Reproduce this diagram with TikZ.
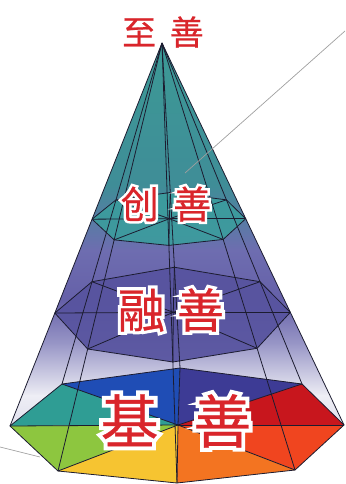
\documentclass[tikz,border=0pt]{standalone}
\usepackage{fontspec}
\newfontfamily\cjk{Noto Sans CJK SC}[FakeBold=0.6]
\newfontfamily\cjkW{Noto Sans CJK SC}[FakeBold=14]
\usetikzlibrary{calc}
\definecolor{zred}{HTML}{D9252B}
\definecolor{edgec}{HTML}{1C1C30}
\definecolor{bTeal}{HTML}{2F9D94}
\definecolor{bBlue}{HTML}{1F4DB5}
\definecolor{bPurple}{HTML}{3D3B95}
\definecolor{bDRed}{HTML}{C8161D}
\definecolor{bRedO}{HTML}{F0451F}
\definecolor{bOrange}{HTML}{F37421}
\definecolor{bYellow}{HTML}{F6C431}
\definecolor{bGreen}{HTML}{8DC63F}
\definecolor{sA}{HTML}{3C9A96}
\definecolor{sB}{HTML}{3F8D97}
\definecolor{sC}{HTML}{6E6DB0}
\definecolor{sD}{HTML}{6560A8}
\definecolor{sE}{HTML}{9B99C8}
\definecolor{sF}{HTML}{EEEEF5}
\definecolor{sG}{HTML}{C8C8E0}
\definecolor{topOct}{HTML}{3B9D9D}
\definecolor{midOct}{HTML}{57539F}
\tikzset{
  edge/.style={draw=edgec, line width=0.8pt, line join=round},
  lbl/.style={inner sep=0pt, anchor=center, text=zred},
  halo/.style={inner sep=0pt, anchor=center, text=white},
  leader/.style={draw=gray!75, line width=0.7pt},
}
\begin{document}
\begin{tikzpicture}[x=1pt,y=-1pt]
\useasboundingbox (0,0) rectangle (345,484);
% base vertices
\coordinate (A) at (162,43);
\coordinate (L) at (10,426);
\coordinate (BL) at (62,384);
\coordinate (B) at (180,368);
\coordinate (BR) at (302,384);
\coordinate (R) at (344,425);
\coordinate (FR) at (295,470);
\coordinate (F) at (177,483);
\coordinate (FL) at (58,471);
\coordinate (C) at (178,425);
% middle section
\coordinate (mL) at ($(A)!0.705!(L)$);
\coordinate (mBL) at ($(A)!0.70!(BL)$);
\coordinate (mB) at ($(A)!0.69!(B)$);
\coordinate (mBR) at ($(A)!0.70!(BR)$);
\coordinate (mR) at ($(A)!0.705!(R)$);
\coordinate (mFR) at ($(A)!0.715!(FR)$);
\coordinate (mF) at ($(A)!0.725!(F)$);
\coordinate (mFL) at ($(A)!0.715!(FL)$);
\coordinate (mC) at ($(A)!0.705!(C)$);
% top section
\coordinate (tL) at ($(A)!0.46!(L)$);
\coordinate (tBL) at ($(A)!0.46!(BL)$);
\coordinate (tB) at ($(A)!0.46!(B)$);
\coordinate (tBR) at ($(A)!0.46!(BR)$);
\coordinate (tR) at ($(A)!0.46!(R)$);
\coordinate (tFR) at ($(A)!0.46!(FR)$);
\coordinate (tF) at ($(A)!0.46!(F)$);
\coordinate (tFL) at ($(A)!0.46!(FL)$);
\coordinate (tC) at ($(A)!0.46!(C)$);
% body shading
\begin{scope}
  \clip (A) -- (L) -- (FL) -- (F) -- (FR) -- (R) -- cycle;
  \shade[top color=sA, bottom color=sB] (0,40) rectangle (345,186);
  \shade[top color=sB, bottom color=sC] (0,185) rectangle (345,251);
  \shade[top color=sC, bottom color=sD] (0,250) rectangle (345,301);
  \shade[top color=sD, bottom color=sE] (0,300) rectangle (345,346);
  \shade[top color=sE, bottom color=sF] (0,345) rectangle (345,396);
  \shade[top color=sF, bottom color=sG] (0,395) rectangle (345,484);
\end{scope}
% base
\fill[bTeal] (L) -- (BL) -- (C) -- cycle;
\fill[bBlue] (BL) -- (B) -- (C) -- cycle;
\fill[bPurple] (B) -- (BR) -- (C) -- cycle;
\fill[bDRed] (BR) -- (R) -- (C) -- cycle;
\fill[bRedO] (R) -- (FR) -- (C) -- cycle;
\fill[bOrange] (FR) -- (F) -- (C) -- cycle;
\fill[bYellow] (F) -- (FL) -- (C) -- cycle;
\fill[bGreen] (FL) -- (L) -- (C) -- cycle;
% sections
\fill[midOct, opacity=0.92] (mL) -- (mBL) -- (mB) -- (mBR) -- (mR) -- (mFR) -- (mF) -- (mFL) -- cycle;
\fill[topOct, opacity=0.9] (tL) -- (tBL) -- (tB) -- (tBR) -- (tR) -- (tFR) -- (tF) -- (tFL) -- cycle;
% edges
\foreach \v in {L,BL,B,BR,R,FR,F,FL} {
  \draw[edge] (A) -- (\v);
  \draw[edge] (C) -- (\v);
  \draw[edge] (mC) -- (m\v);
  \draw[edge] (tC) -- (t\v);
}
\draw[edge] (L) -- (BL) -- (B) -- (BR) -- (R) -- (FR) -- (F) -- (FL) -- cycle;
\draw[edge] (mL) -- (mBL) -- (mB) -- (mBR) -- (mR) -- (mFR) -- (mF) -- (mFL) -- cycle;
\draw[edge] (tL) -- (tBL) -- (tB) -- (tBR) -- (tR) -- (tFR) -- (tF) -- (tFL) -- cycle;
% leader lines
\coordinate (ld1) at (345,31);
\coordinate (ld2) at (185,173);
\coordinate (ld3) at (0,447);
\coordinate (ld4) at (40,457);
\draw[leader] (ld1) -- (ld2);
\draw[leader] (ld3) -- (ld4);
% labels
\node[halo, font=\cjkW\fontsize{34}{34}\selectfont] (h1) at (163,32) {至\hspace{0.4em}善};
\node[lbl, font=\cjk\fontsize{34}{34}\selectfont] (t1) at (163,32) {至\hspace{0.4em}善};
\node[halo, font=\cjkW\fontsize{38}{38}\selectfont] (h2) at (166,204) {创\hspace{0.38em}善};
\node[lbl, font=\cjk\fontsize{38}{38}\selectfont] (t2) at (166,204) {创\hspace{0.38em}善};
\node[halo, font=\cjkW\fontsize{47}{47}\selectfont] (h3) at (171,310) {融\hspace{0.26em}善};
\node[lbl, font=\cjk\fontsize{47}{47}\selectfont] (t3) at (171,310) {融\hspace{0.26em}善};
\node[halo, font=\cjkW\fontsize{58}{58}\selectfont] (h4) at (176,421) {基\hspace{0.6em}善};
\node[lbl, font=\cjk\fontsize{58}{58}\selectfont] (t4) at (176,421) {基\hspace{0.6em}善};
\end{tikzpicture}
\end{document}
